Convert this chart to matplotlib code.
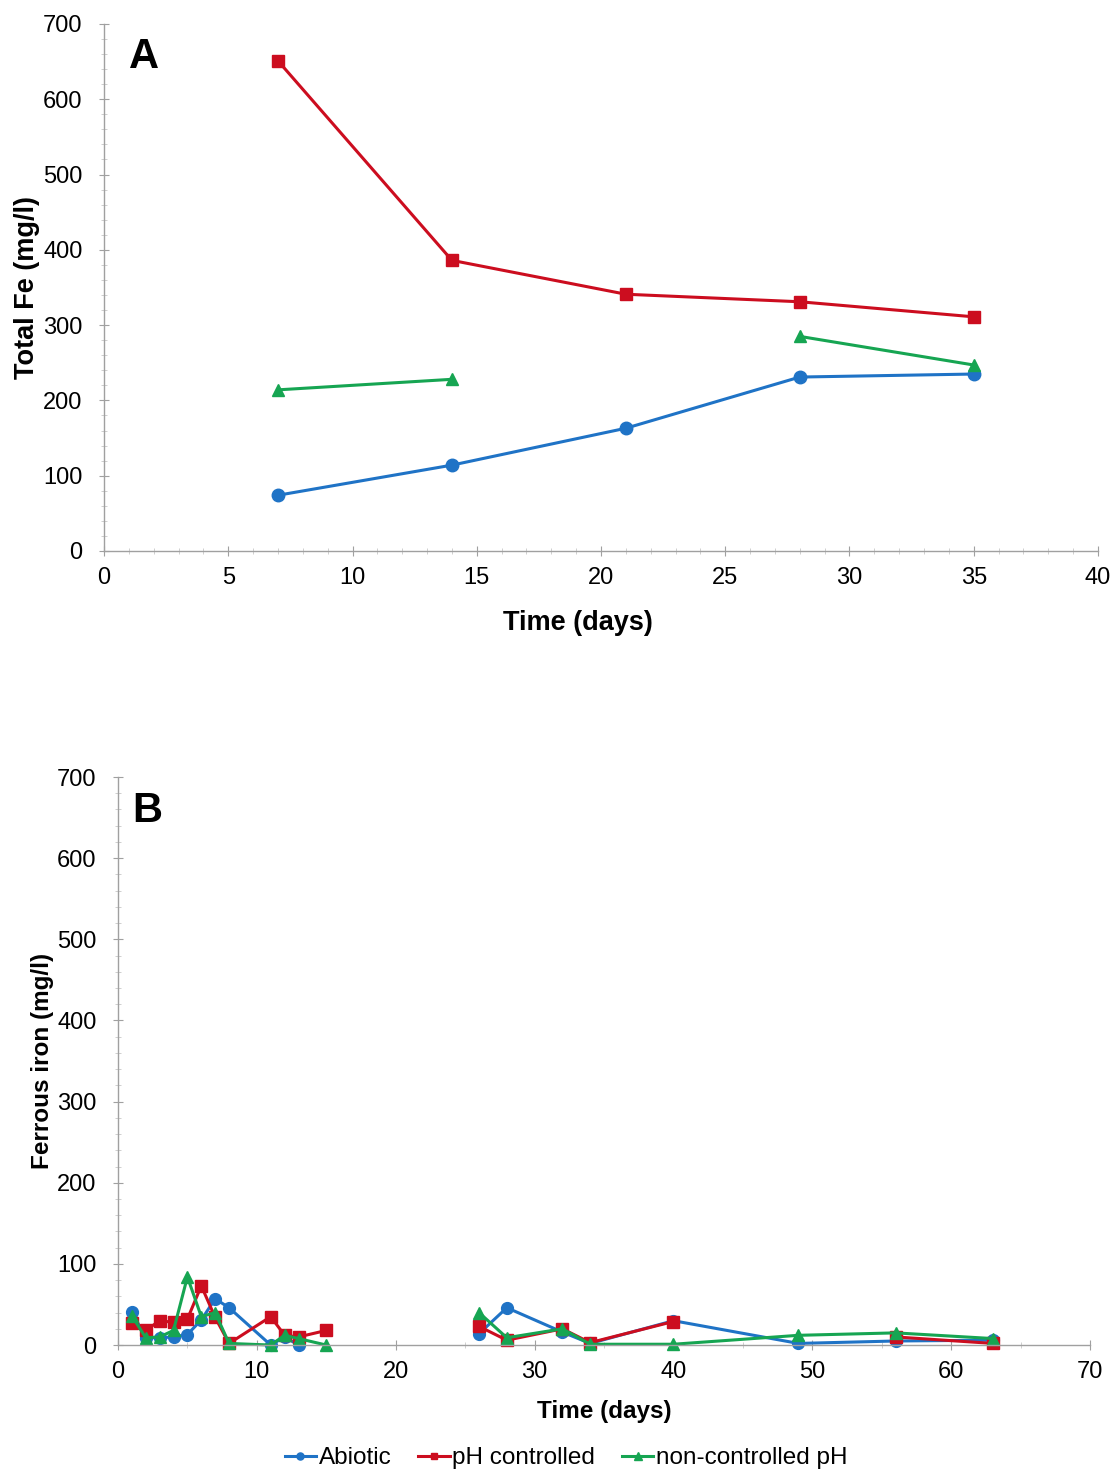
import numpy as np
import matplotlib.pyplot as plt
from matplotlib.ticker import MultipleLocator

plt.rcParams['font.family'] = ['Liberation Sans', 'DejaVu Sans']

# panel A: total Fe
days_a = [7, 14, 21, 28, 35]
fe_abiotic = [74, 114, 163, 231, 235]
fe_ph = [651, 386, 341, 331, 311]
fe_noph = [214, 228, np.nan, 285, 247]

# panel B: ferrous iron (NaN at day 20 separates the two runs)
days_b = [1, 2, 3, 4, 5, 6, 7, 8, 11, 12, 13, 15, 20,
          26, 28, 32, 34, 40, 49, 56, 63]
fe2_abiotic = [41, 9, 9, 10, 13, 31, 57, 46, 0, 10, 0, np.nan, np.nan,
               14, 46, 16, 2, 30, 2, 5, 6]
fe2_ph = [27, 18, 30, 28, 32, 73, 34, 2, 35, 12, 10, 18, np.nan,
          23, 6, 20, 3, 29, np.nan, 10, 2]
fe2_noph = [36, 9, 10, 18, 84, 35, 40, 2, 0, 12, 8, 0, np.nan,
            40, 9, 20, 1, 1, 12, 15, 8]

c_blue = '#1f73c6'
c_red = '#cc0d1f'
c_green = '#16a552'
spine_c = '#a0a0a0'


def style_axes(ax):
    for s in ['top', 'right']:
        ax.spines[s].set_visible(False)
    for s in ['left', 'bottom']:
        ax.spines[s].set_color(spine_c)
        ax.spines[s].set_linewidth(1.0)
    ax.tick_params(which='major', colors=spine_c, labelcolor='black',
                   labelsize=17, direction='inout', length=7)
    ax.tick_params(which='minor', colors='#c8c8c8', direction='inout',
                   length=4)
    ax.tick_params(axis='y', pad=12)
    ax.tick_params(axis='x', pad=8)


def series(ax, x, y, color, marker, ms, label=None):
    ax.plot(x, y, color=color, marker=marker, ms=ms, lw=2.2,
            markeredgecolor=color, label=label, clip_on=False)


fig = plt.figure(figsize=(11.14, 14.7), dpi=100)

# ---- panel A
ax1 = fig.add_axes([0.0934, 0.6252, 0.8922, 0.3585])
series(ax1, days_a, fe_abiotic, c_blue, 'o', 9)
series(ax1, days_a, fe_ph, c_red, 's', 8)
series(ax1, days_a, fe_noph, c_green, '^', 9)
ax1.set_xlim(0, 40)
ax1.set_ylim(0, 700)
ax1.xaxis.set_major_locator(MultipleLocator(5))
ax1.xaxis.set_minor_locator(MultipleLocator(1))
ax1.yaxis.set_major_locator(MultipleLocator(100))
ax1.yaxis.set_minor_locator(MultipleLocator(20))
style_axes(ax1)
ax1.set_xlabel('Time (days)', fontsize=19.5, fontweight='bold', labelpad=15)
ax1.xaxis.label.set_x(0.477)
ax1.set_ylabel('Total Fe (mg/l)', fontsize=19.5, fontweight='bold', labelpad=2)
ax1.text(0.025, 0.975, 'A', transform=ax1.transAxes, fontsize=30,
         fontweight='heavy', va='top', ha='left')

# ---- panel B
ax2 = fig.add_axes([0.1059, 0.0850, 0.8726, 0.3864])
series(ax2, days_b, fe2_abiotic, c_blue, 'o', 8.5, 'Abiotic')
series(ax2, days_b, fe2_ph, c_red, 's', 8, 'pH controlled')
series(ax2, days_b, fe2_noph, c_green, '^', 8.5, 'non-controlled pH')
ax2.set_xlim(0, 70)
ax2.set_ylim(0, 700)
ax2.xaxis.set_major_locator(MultipleLocator(10))
ax2.xaxis.set_minor_locator(MultipleLocator(5))
ax2.yaxis.set_major_locator(MultipleLocator(100))
ax2.yaxis.set_minor_locator(MultipleLocator(20))
style_axes(ax2)
ax2.set_xlabel('Time (days)', fontsize=17.5, fontweight='bold', labelpad=12)
ax2.set_ylabel('Ferrous iron (mg/l)', fontsize=17.5, fontweight='bold', labelpad=2)
ax2.text(0.015, 0.975, 'B', transform=ax2.transAxes, fontsize=30,
         fontweight='heavy', va='top', ha='left')

handles, labels = ax2.get_legend_handles_labels()
fig.legend(handles, labels, loc='center', bbox_to_anchor=(0.508, 0.008),
           ncol=3, frameon=False, fontsize=17.5, handlelength=1.3,
           handletextpad=0.1, columnspacing=1.1, markerscale=0.6)

plt.savefig('out.png', dpi=100)
